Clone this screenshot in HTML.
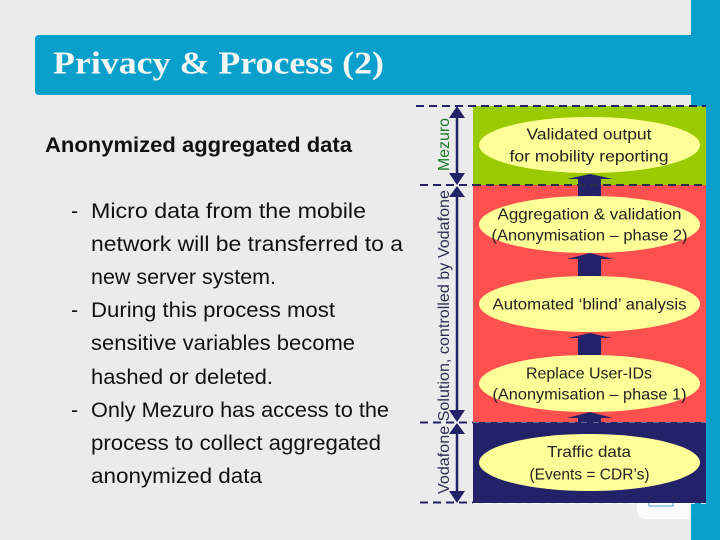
<!DOCTYPE html>
<html><head><meta charset="utf-8"><style>
html,body{margin:0;padding:0;background:#ebebec}
svg{display:block}
.b{font-family:"Liberation Sans",sans-serif;font-size:21.5px;fill:#111}
.e{font-family:"Liberation Sans",sans-serif;font-size:16px;fill:#222;text-anchor:middle}
.v{font-family:"Liberation Sans",sans-serif;font-size:15.5px}
</style></head><body>
<svg width="720" height="540" viewBox="0 0 720 540" xmlns="http://www.w3.org/2000/svg">
<rect width="720" height="540" fill="#ebebec"/>
<path d="M637 490H691V519H647Q637 519 637 509Z" fill="#fbfbfb"/>
<rect x="649" y="496" width="24" height="10" fill="#fff" stroke="#5a9ec8" stroke-width="1"/>
<rect x="691" y="0" width="29" height="540" fill="#0aa0cb"/>
<path d="M39 35H691V95H39Q35 95 35 91V39Q35 35 39 35Z" fill="#0aa0cb"/>
<text x="53" y="73.500" font-family="'Liberation Serif',serif" font-weight="bold" font-size="32" fill="#f4f8f4" textLength="331" lengthAdjust="spacingAndGlyphs">Privacy &amp; Process (2)</text>
<text x="45" y="152" font-family="'Liberation Sans',sans-serif" font-weight="bold" font-size="21" fill="#111" textLength="307" lengthAdjust="spacingAndGlyphs">Anonymized aggregated data</text>

<text class="b" x="71" y="218">-</text>
<text class="b" x="91" y="218" textLength="275" lengthAdjust="spacingAndGlyphs">Micro data from  the mobile</text>
<text class="b" x="91" y="251" textLength="312" lengthAdjust="spacingAndGlyphs">network will  be transferred to a</text>
<text class="b" x="91" y="284" textLength="185" lengthAdjust="spacingAndGlyphs">new server system.</text>
<text class="b" x="71" y="317">-</text>
<text class="b" x="91" y="317" textLength="244" lengthAdjust="spacingAndGlyphs">During this process most</text>
<text class="b" x="91" y="350" textLength="264" lengthAdjust="spacingAndGlyphs">sensitive variables become</text>
<text class="b" x="91" y="384" textLength="182" lengthAdjust="spacingAndGlyphs">hashed or deleted.</text>
<text class="b" x="71" y="417">-</text>
<text class="b" x="91" y="417" textLength="298" lengthAdjust="spacingAndGlyphs">Only Mezuro has access to the</text>
<text class="b" x="91" y="450" textLength="290" lengthAdjust="spacingAndGlyphs">process to collect aggregated</text>
<text class="b" x="91" y="483" textLength="171" lengthAdjust="spacingAndGlyphs">anonymized data</text>

<rect x="473" y="106" width="233" height="79" fill="#99cb00"/>
<rect x="473" y="185" width="233" height="237" fill="#ff5050"/>
<rect x="473" y="422" width="233" height="81" fill="#232168"/>

<g fill="#232168">
<path d="M567 179L590 174L613 179H601V197H578V179Z"/>
<path d="M567 259L590 253L613 259H601V276H578V259Z"/>
<path d="M568 338L590 333L612 338H601V355H578V338Z"/>
<path d="M567 418L590 412L613 418H601V434H578V418Z"/>
</g>

<g fill="#ffff99">
<ellipse cx="589.500" cy="145" rx="110.500" ry="28"/>
<ellipse cx="589.500" cy="224.500" rx="110.500" ry="28.500"/>
<ellipse cx="589.500" cy="304" rx="110.500" ry="28"/>
<ellipse cx="589.500" cy="383.500" rx="110.500" ry="28.500"/>
<ellipse cx="589.500" cy="462.500" rx="110.500" ry="28.500"/>
</g>

<text class="e" x="589" y="139.500" textLength="125" lengthAdjust="spacingAndGlyphs">Validated output</text>
<text class="e" x="589" y="161.500" textLength="159" lengthAdjust="spacingAndGlyphs">for mobility reporting</text>
<text class="e" x="589.500" y="219.500" textLength="184" lengthAdjust="spacingAndGlyphs">Aggregation &amp; validation</text>
<text class="e" x="589.500" y="240.500" textLength="196" lengthAdjust="spacingAndGlyphs">(Anonymisation – phase 2)</text>
<text class="e" x="589.500" y="309.500" textLength="194" lengthAdjust="spacingAndGlyphs">Automated ‘blind’ analysis</text>
<text class="e" x="589" y="378.500" textLength="126" lengthAdjust="spacingAndGlyphs">Replace User-IDs</text>
<text class="e" x="589.500" y="399.500" textLength="194" lengthAdjust="spacingAndGlyphs">(Anonymisation – phase 1)</text>
<text class="e" x="589" y="457" textLength="84" lengthAdjust="spacingAndGlyphs">Traffic data</text>
<text class="e" x="589.500" y="479.500" textLength="120" lengthAdjust="spacingAndGlyphs">(Events = CDR’s)</text>

<g stroke="#232168" stroke-width="2" stroke-dasharray="8 5" fill="none">
<path d="M416 106H706"/>
<path d="M420 185H473"/>
<path d="M420 422.500H473"/>
<path d="M420 502.500H473"/>
</g>
<path d="M473 185H706" stroke="#2b2b4a" stroke-width="2" stroke-dasharray="8 5"/>
<path d="M473 422.500H706" stroke="#fff" stroke-opacity=".35" stroke-width="1" stroke-dasharray="6 6"/>
<path d="M473 503.500H706" stroke="#fff" stroke-opacity=".8" stroke-width="1" stroke-dasharray="6 6"/>

<g stroke="#232168" stroke-width="2.500">
<path d="M457 112V179"/><path d="M457 191V416"/><path d="M457 428V497"/>
</g>
<g fill="#232168">
<path d="M457 106L465 118H449Z"/><path d="M457 185L449 173H465Z"/>
<path d="M457 186L465 197H449Z"/><path d="M457 422L449 410H465Z"/>
<path d="M457 423L465 434H449Z"/><path d="M457 503L449 491H465Z"/>
</g>

<text class="v" transform="translate(449 171) rotate(-90)" fill="#1a7a28" textLength="53" lengthAdjust="spacingAndGlyphs">Mezuro</text>
<text class="v" transform="translate(449 494) rotate(-90)" fill="#2f2f55" textLength="304" lengthAdjust="spacingAndGlyphs">Vodafone Solution, controlled by Vodafone</text>
</svg>
</body></html>
